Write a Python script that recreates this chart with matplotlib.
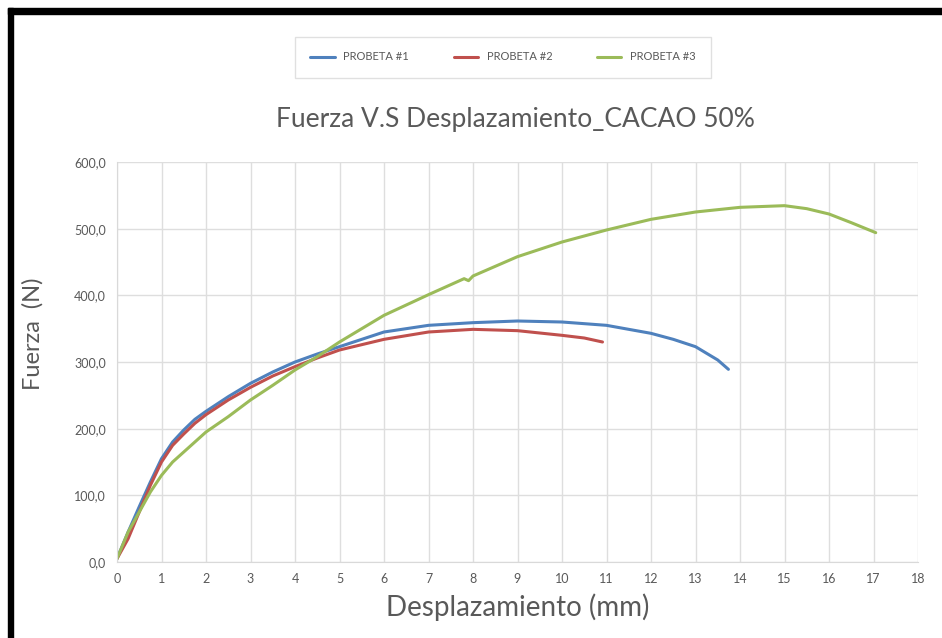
import matplotlib.pyplot as plt
from matplotlib.patches import Rectangle
from matplotlib.ticker import FuncFormatter

# Datos
x1 = [0, 0.25, 0.5, 0.75, 1, 1.25, 1.5, 1.75, 2, 2.5, 3, 3.5, 4, 4.5, 5, 6, 7, 8, 9, 10, 11, 12, 12.5, 13, 13.5, 13.74]
f1 = [5, 45, 83, 120, 155, 180, 198, 214, 226, 248, 268, 285, 300, 312, 323, 345, 355, 359, 361.5, 360, 355, 343, 334, 323, 303, 289]

x2 = [0, 0.25, 0.5, 0.75, 1, 1.25, 1.5, 1.75, 2, 2.5, 3, 3.5, 4, 4.5, 5, 6, 7, 8, 9, 10, 10.5, 10.91]
f2 = [5, 35, 75, 115, 150, 175, 192, 208, 221, 243, 262, 279, 293, 306, 318, 334, 345, 349, 347, 340, 336, 330]

x3 = [0, 0.25, 0.5, 0.75, 1, 1.25, 1.5, 1.75, 2, 2.5, 3, 3.5, 4, 4.5, 5, 6, 7, 7.8, 7.9, 8, 9, 10, 11, 12, 13, 14, 15, 15.5, 16, 16.5, 17.05]
f3 = [5, 45, 75, 105, 130, 150, 165, 180, 195, 218, 243, 265, 288, 308, 330, 370, 401, 425, 422, 429, 458, 480, 498, 514, 525, 532, 534.5, 530, 522, 509, 494]

series = [("PROBETA #1", x1, f1, "#4F81BD"),
          ("PROBETA #2", x2, f2, "#C0504D"),
          ("PROBETA #3", x3, f3, "#9BBB59")]

plt.rcParams['font.family'] = ['Lato', 'DejaVu Sans']
gray = "#595959"

fig = plt.figure(figsize=(9.42, 6.38), dpi=100)
# marco negro de la captura
fig.patches.append(Rectangle((8 / 942, 0), 5 / 942, 1 - 8 / 638, transform=fig.transFigure,
                             color="black", zorder=10))
fig.patches.append(Rectangle((8 / 942, 1 - 14 / 638), 1, 6 / 638, transform=fig.transFigure,
                             color="black", zorder=10))

ax = fig.add_axes([117 / 942, 76 / 638, 801 / 942, 400 / 638])
for name, xs, fs, c in series:
    ax.plot(xs, fs, color=c, lw=2.2, label=name, solid_capstyle="round")

ax.set_xlim(0, 18)
ax.set_ylim(0, 600)
ax.set_xticks(range(0, 19))
ax.set_yticks(range(0, 601, 100))
ax.yaxis.set_major_formatter(FuncFormatter(lambda v, p: f"{v:.1f}".replace(".", ",")))
ax.grid(True, color="#dedede", lw=1)
ax.set_axisbelow(True)
for s in ["top", "right"]:
    ax.spines[s].set_visible(False)
for s in ["left", "bottom"]:
    ax.spines[s].set_color("#d9d9d9")
ax.tick_params(length=0, colors=gray, labelsize=9, pad=8)

ax.set_xlabel("Desplazamiento (mm)", fontsize=20, color=gray, labelpad=6)
ax.set_ylabel("Fuerza  (N)", fontsize=17, color=gray)
ax.yaxis.set_label_coords(-0.092, 0.57)
fig.text(515 / 942, 1 - 120 / 638, "Fuerza V.S Desplazamiento_CACAO 50%", ha="center", va="center",
         fontsize=19, color=gray)

leg = fig.legend(loc="center", bbox_to_anchor=(503 / 942, 1 - 57 / 638), ncol=3, fontsize=8,
                 frameon=True, fancybox=False, edgecolor="#d9d9d9", handlelength=2.2,
                 columnspacing=4.0, borderpad=1.35, borderaxespad=0)
for t in leg.get_texts():
    t.set_color(gray)

fig.savefig("out.png", dpi=100)
